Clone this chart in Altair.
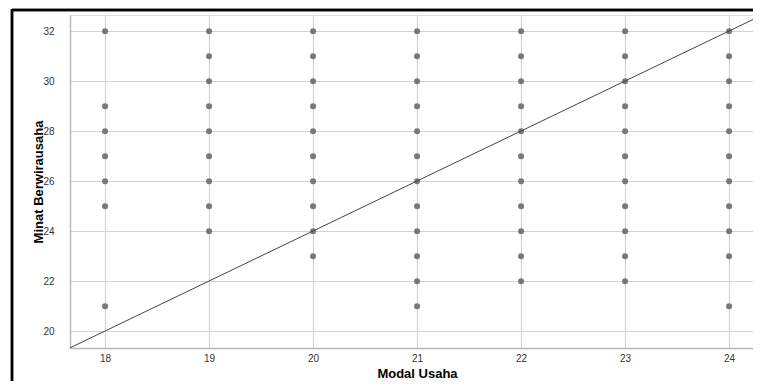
import altair as alt
import pandas as pd

# Modal Usaha (x) and Minat Berwirausaha (y) values
x18 = [32, 29, 28, 27, 26, 25, 21]
x19 = [32, 31, 30, 29, 28, 27, 26, 25, 24]
x20 = [32, 31, 30, 29, 28, 27, 26, 25, 24, 23]
x21 = [32, 31, 30, 29, 28, 27, 26, 25, 24, 23, 22, 21]
x22 = [32, 31, 30, 29, 28, 27, 26, 25, 24, 23, 22]
x23 = [32, 31, 30, 29, 28, 27, 26, 25, 24, 23, 22]
x24 = [32, 31, 30, 29, 28, 27, 26, 25, 24, 23, 21]
columns = {18: x18, 19: x19, 20: x20, 21: x21, 22: x22, 23: x23, 24: x24}

# reference line end points
line_x = [17.66, 24.31]
line_y = [19.33, 32.63]

x_ticks = [18, 19, 20, 21, 22, 23, 24]
y_ticks = [20, 22, 24, 26, 28, 30, 32]
x_domain = [17.663, 24.23]
y_domain = [19.33, 32.65]

rows = [{"Modal Usaha": k, "Minat Berwirausaha": v} for k, vals in columns.items() for v in vals]
df = pd.DataFrame(rows)
df_line = pd.DataFrame({"Modal Usaha": line_x, "Minat Berwirausaha": line_y})

FONT = "Liberation Sans"

xenc = alt.X(
    "Modal Usaha:Q",
    scale=alt.Scale(domain=x_domain, nice=False, zero=False),
    axis=alt.Axis(
        values=x_ticks, format="d", ticks=False, labelPadding=5,
        title="Modal Usaha", titleFontSize=13, titleFontWeight="bold",
        titleColor="#000000", titleFont=FONT, titleY=32, titleX=347,
        titleBaseline="bottom",
        labelFont=FONT, labelFontSize=10, labelColor="#333333",
        domainColor="#b8b8b8", domainWidth=1.5,
        grid=True, gridColor="#d4d4d4", gridWidth=1.2,
    ),
)
yenc = alt.Y(
    "Minat Berwirausaha:Q",
    scale=alt.Scale(domain=y_domain, nice=False, zero=False),
    axis=alt.Axis(
        values=y_ticks, format="d", ticks=False, labelPadding=16,
        title="Minat Berwirausaha", titleFontSize=13, titleFontWeight="bold",
        titleColor="#000000", titleFont=FONT, titleX=-28, titleBaseline="alphabetic",
        labelFont=FONT, labelFontSize=10, labelColor="#333333",
        domainColor="#b8b8b8", domainWidth=1.5,
        grid=True, gridColor="#d4d4d4", gridWidth=1.2,
    ),
)

points = alt.Chart(df).mark_circle(size=36, color="#777777", opacity=1).encode(x=xenc, y=yenc)

line = alt.Chart(df_line).mark_line(color="#444444", strokeWidth=1, clip=True).encode(
    x="Modal Usaha:Q", y="Minat Berwirausaha:Q"
)

frame_top = alt.Chart(df_line).mark_rule(color="#000000", strokeWidth=2.5).encode(
    x=alt.value(-58), x2=alt.value(700), y=alt.value(-5)
)
frame_left = alt.Chart(df_line).mark_rule(color="#000000", strokeWidth=2.5).encode(
    x=alt.value(-58), y=alt.value(-6), y2=alt.value(380)
)

chart = (
    alt.layer(points, line, frame_top, frame_left)
    .properties(
        width=683,
        height=333,
        autosize=alt.AutoSizeParams(type="none"),
        padding={"left": 62, "top": 7, "right": 0, "bottom": 33},
    )
    .configure_view(stroke=None)
    .configure(background="#ffffff")
)

chart.save("out.html", embed_options={"renderer": "svg", "actions": False})
